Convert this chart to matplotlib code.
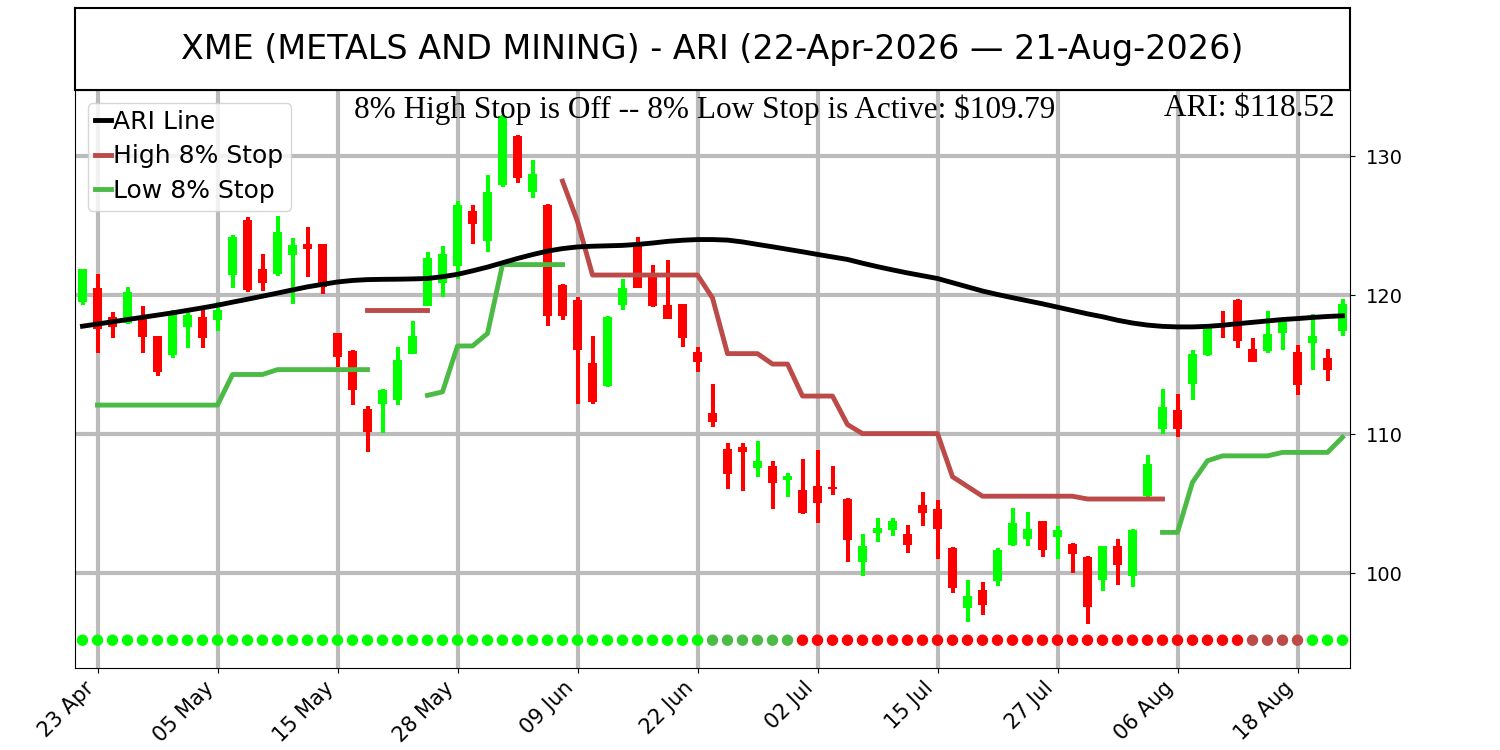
import matplotlib
matplotlib.use("Agg")
import matplotlib.pyplot as plt
import numpy as np
import pandas as pd

nan = np.nan

# trading days 22-Apr-2026 .. 21-Aug-2026 (US market holidays skipped)
dates = pd.bdate_range("2026-04-22", "2026-08-21", freq="C",
                       holidays=["2026-05-25", "2026-06-19", "2026-07-03"])

opens = [119.5, 120.5, 118.4, 118.0, 118.3, 117.05, 115.7, 117.7, 118.4, 118.2,
         121.45, 125.4, 121.85, 121.5, 122.9, 123.7, 123.65, 117.3, 116.0, 111.8,
         112.2, 112.45, 115.8, 119.25, 120.9, 122.1, 126.05, 123.9, 127.9, 131.45,
         127.45, 126.5, 120.7, 119.65, 115.1, 113.5, 119.3, 123.6, 121.3, 119.3,
         119.35, 115.95, 111.55, 108.95, 109.1, 107.55, 107.75, 106.75, 106.0, 106.25,
         106.2, 105.35, 100.8, 102.9, 103.1, 102.85, 104.9, 104.6, 101.85, 97.55,
         98.8, 99.45, 102.05, 102.45, 103.75, 102.6, 102.1, 101.2, 99.55, 101.95,
         99.8, 105.55, 110.35, 111.75, 113.65, 115.7, 117.9, 119.65, 116.1, 116.0,
         117.25, 115.9, 116.55, 115.45, 117.45]
highs = [121.9, 121.5, 118.8, 120.6, 119.2, 117.1, 118.9, 118.9, 119.0, 119.5,
         124.3, 125.6, 122.95, 125.7, 124.1, 124.9, 123.7, 117.3, 116.05, 112.0,
         113.25, 116.3, 118.15, 123.1, 123.55, 126.75, 126.45, 128.65, 132.95, 131.5,
         129.75, 126.55, 120.8, 119.9, 117.1, 118.5, 121.2, 124.2, 122.15, 122.5,
         119.4, 116.3, 113.6, 109.35, 109.4, 109.55, 108.1, 107.25, 108.2, 108.85,
         107.7, 105.4, 102.8, 104.0, 104.0, 103.45, 105.85, 105.3, 101.9, 99.55,
         99.35, 101.85, 104.7, 104.45, 103.8, 103.4, 102.2, 101.25, 102.0, 102.45,
         103.2, 108.5, 113.25, 112.9, 116.05, 117.75, 118.85, 119.7, 116.9, 118.85,
         118.3, 116.4, 118.65, 116.15, 119.7]
lows = [119.3, 115.85, 116.9, 117.9, 115.85, 114.2, 115.5, 116.2, 116.2, 117.4,
        120.55, 120.2, 120.3, 121.4, 119.4, 121.3, 120.1, 114.85, 112.1, 108.7,
        110.1, 112.1, 115.8, 119.2, 119.9, 121.2, 123.65, 123.1, 127.8, 128.1,
        127.0, 117.8, 118.25, 112.15, 112.2, 113.4, 118.9, 120.5, 119.15, 118.3,
        116.25, 114.5, 110.5, 106.1, 105.9, 106.9, 104.65, 105.5, 104.3, 103.6,
        105.65, 100.8, 99.8, 102.25, 102.7, 101.45, 103.4, 101.05, 98.6, 96.5,
        97.0, 99.1, 102.0, 102.0, 101.15, 101.05, 100.0, 96.4, 98.75, 99.2,
        99.0, 105.35, 110.0, 109.8, 112.45, 115.6, 116.9, 116.2, 115.2, 115.85,
        116.05, 112.8, 114.6, 113.85, 117.05]
closes = [121.85, 117.6, 117.7, 120.2, 117.0, 114.5, 118.7, 118.6, 116.9, 118.9,
          124.2, 120.4, 120.9, 124.55, 123.6, 123.3, 120.6, 115.55, 113.2, 110.2,
          113.2, 115.35, 117.1, 122.65, 122.95, 126.45, 125.15, 127.45, 132.9, 128.45,
          128.7, 118.5, 118.5, 116.05, 112.3, 118.45, 120.5, 120.55, 119.2, 118.3,
          116.95, 115.2, 110.85, 107.15, 108.7, 108.1, 106.5, 107.0, 104.35, 105.05,
          106.05, 102.4, 101.95, 103.3, 103.75, 102.05, 104.35, 103.2, 98.95, 98.4,
          97.75, 101.65, 103.6, 103.2, 101.7, 103.15, 101.4, 97.6, 101.95, 100.6,
          103.15, 107.9, 111.95, 110.35, 115.75, 117.65, 117.9, 116.7, 115.2, 117.2,
          118.1, 113.55, 117.05, 114.65, 119.35]

ari = [117.77, 117.93, 118.09, 118.25, 118.41, 118.57, 118.73, 118.91, 119.09, 119.28,
       119.50, 119.71, 119.93, 120.15, 120.38, 120.60, 120.78, 120.95, 121.06, 121.12,
       121.14, 121.15, 121.17, 121.20, 121.33, 121.50, 121.75, 122.02, 122.33, 122.64,
       122.92, 123.17, 123.35, 123.47, 123.52, 123.55, 123.58, 123.65, 123.75, 123.87,
       123.95, 124.00, 124.00, 123.96, 123.83, 123.65, 123.48, 123.30, 123.12, 122.93,
       122.75, 122.57, 122.30, 122.05, 121.82, 121.60, 121.40, 121.20, 120.90, 120.60,
       120.30, 120.05, 119.82, 119.60, 119.38, 119.14, 118.90, 118.66, 118.45, 118.20,
       118.00, 117.85, 117.76, 117.72, 117.72, 117.76, 117.84, 117.95, 118.05, 118.15,
       118.25, 118.32, 118.40, 118.47, 118.52]

high_stop = [nan] * 19 + [118.9] * 5 + [nan] * 8 + [
    128.2, 125.3, 121.45, 121.45, 121.45, 121.45, 121.45, 121.45, 121.45, 121.45,
    119.8, 115.8, 115.8, 115.8, 115.05, 115.05, 112.75, 112.75, 112.75, 110.7,
    110.05, 110.05, 110.05, 110.05, 110.05, 110.05, 106.95, 106.25, 105.55, 105.55,
    105.55, 105.55, 105.55, 105.55, 105.55, 105.35, 105.35, 105.35, 105.35, 105.35,
    105.35] + [nan] * 12
low_stop = [nan] + [112.1] * 9 + [114.3] * 3 + [114.65] * 7 + [nan] * 3 + [
    112.8, 113.05, 116.35, 116.35, 117.25, 122.2, 122.2, 122.2, 122.2, 122.2] + [nan] * 39 + [
    102.95, 102.95, 106.55, 108.1, 108.45, 108.45, 108.45, 108.45, 108.7, 108.7,
    108.7, 108.7, 109.79]

# signal dots along the bottom
dot_state = ["up"] * 42 + ["low"] * 6 + ["down"] * 30 + ["high"] * 4 + ["up"] * 3

UP, DOWN = "#00ff00", "#ff0000"
HIGH_C, LOW_C = "#bb4a48", "#4bbb46"
dot_colors = {"up": UP, "low": LOW_C, "down": DOWN, "high": HIGH_C}

fig = plt.figure(figsize=(15, 7.5), dpi=100)
ax = fig.add_axes([0.05, 0.1093, 0.85, 0.7707])
tax = fig.add_axes([0.05, 0.88, 0.85, 0.109])

x = np.arange(len(dates))
o, h, l, c = map(np.array, (opens, highs, lows, closes))
cols = np.where(c > o, UP, DOWN)

ax.grid(True, color="#bbbbbb", lw=3, zorder=0)
ax.vlines(x, l, h, colors=cols, lw=2.9, zorder=2)
ax.bar(x, np.abs(c - o), bottom=np.minimum(o, c), width=0.66, color=cols, zorder=2)

ax.plot(x, ari, color="black", lw=3.5, label="ARI Line", zorder=4)
ax.plot(x, high_stop, color=HIGH_C, lw=3.5, label="High 8% Stop", zorder=3)
ax.plot(x, low_stop, color=LOW_C, lw=3.5, label="Low 8% Stop", zorder=3)

ax.scatter(x, [95.2] * len(x), s=52, c=[dot_colors[s] for s in dot_state], zorder=3)

ax.set_xlim(-0.5, 84.5)
ax.set_ylim(93.2, 134.75)
ax.set_yticks([100, 110, 120, 130])
ax.yaxis.tick_right()
ax.tick_params(axis="y", labelsize=14, pad=8)
ticks = x[1::8]
ax.set_xticks(ticks)
ax.set_xticklabels([dates[i].strftime("%d %b") for i in ticks],
                   rotation=45, ha="right", fontsize=15)
ax.set_axisbelow(True)

ax.legend(loc="upper left", fontsize=18, handlelength=0.65, handletextpad=0.08,
          borderpad=0.3, labelspacing=0.42, borderaxespad=0.5)

ax.text(0.494, 0.993, "8% High Stop is Off -- 8% Low Stop is Active: $109.79",
        transform=ax.transAxes, ha="center", va="top",
        family="Liberation Serif", fontsize=22.5)
ax.text(0.988, 0.993, "ARI: $118.52", transform=ax.transAxes, ha="right", va="top",
        family="Liberation Serif", fontsize=22.5)

tax.set_xticks([])
tax.set_yticks([])
tax.text(0.5, 0.5, "XME (METALS AND MINING) - ARI (22-Apr-2026 \u2014 21-Aug-2026)",
         ha="center", va="center", fontsize=24, transform=tax.transAxes)
for sp in tax.spines.values():
    sp.set_linewidth(1.5)

fig.savefig("out.png", dpi=100)
